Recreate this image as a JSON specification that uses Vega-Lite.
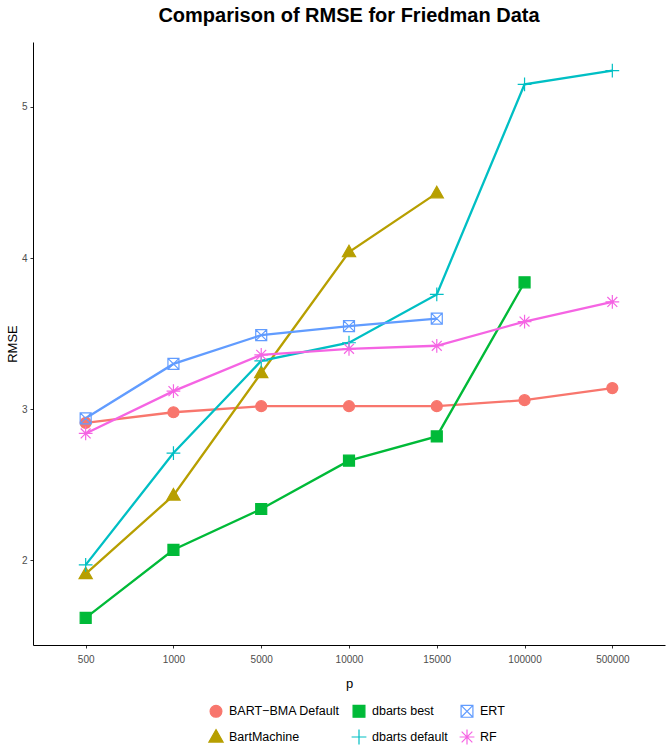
{
  "$schema": "https://vega.github.io/schema/vega-lite/v6.json",
  "autosize": {"type": "none"},
  "width": 632,
  "height": 603,
  "padding": {"left": 33, "top": 42, "right": 5, "bottom": 105},
  "background": "white",
  "title": {
    "text": "Comparison of RMSE for Friedman Data",
    "font": "Liberation Sans",
    "fontSize": 20,
    "fontWeight": "bold",
    "color": "black",
    "anchor": "middle",
    "frame": "group",
    "offset": 16
  },
  "config": {
    "view": {"stroke": null},
    "font": "Liberation Sans",
    "axis": {
      "domainColor": "black",
      "domainWidth": 1,
      "tickColor": "#333333",
      "tickSize": 3,
      "tickWidth": 1,
      "labelColor": "#4D4D4D",
      "labelFont": "Liberation Sans",
      "labelFontSize": 10,
      "titleFont": "Liberation Sans",
      "titleFontSize": 13,
      "titleFontWeight": "normal",
      "titleColor": "black",
      "grid": false
    },
    "legend": {
      "labelFont": "Liberation Sans",
      "labelFontSize": 12.5,
      "labelColor": "black",
      "symbolStrokeWidth": 1.2,
      "symbolSize": 140
    }
  },
  "data": {
    "values": [
      {"p": "500", "series": "BART−BMA Default", "rmse": 2.91},
      {"p": "1000", "series": "BART−BMA Default", "rmse": 2.98},
      {"p": "5000", "series": "BART−BMA Default", "rmse": 3.02},
      {"p": "10000", "series": "BART−BMA Default", "rmse": 3.02},
      {"p": "15000", "series": "BART−BMA Default", "rmse": 3.02},
      {"p": "100000", "series": "BART−BMA Default", "rmse": 3.06},
      {"p": "500000", "series": "BART−BMA Default", "rmse": 3.14},
      {"p": "500", "series": "BartMachine", "rmse": 1.91},
      {"p": "1000", "series": "BartMachine", "rmse": 2.43},
      {"p": "5000", "series": "BartMachine", "rmse": 3.24},
      {"p": "10000", "series": "BartMachine", "rmse": 4.04},
      {"p": "15000", "series": "BartMachine", "rmse": 4.43},
      {"p": "500", "series": "dbarts best", "rmse": 1.62},
      {"p": "1000", "series": "dbarts best", "rmse": 2.07},
      {"p": "5000", "series": "dbarts best", "rmse": 2.34},
      {"p": "10000", "series": "dbarts best", "rmse": 2.66},
      {"p": "15000", "series": "dbarts best", "rmse": 2.82},
      {"p": "100000", "series": "dbarts best", "rmse": 3.84},
      {"p": "500", "series": "dbarts default", "rmse": 1.97},
      {"p": "1000", "series": "dbarts default", "rmse": 2.71},
      {"p": "5000", "series": "dbarts default", "rmse": 3.32},
      {"p": "10000", "series": "dbarts default", "rmse": 3.44},
      {"p": "15000", "series": "dbarts default", "rmse": 3.76},
      {"p": "100000", "series": "dbarts default", "rmse": 5.15},
      {"p": "500000", "series": "dbarts default", "rmse": 5.24},
      {"p": "500", "series": "ERT", "rmse": 2.94},
      {"p": "1000", "series": "ERT", "rmse": 3.30},
      {"p": "5000", "series": "ERT", "rmse": 3.49},
      {"p": "10000", "series": "ERT", "rmse": 3.55},
      {"p": "15000", "series": "ERT", "rmse": 3.60},
      {"p": "500", "series": "RF", "rmse": 2.84},
      {"p": "1000", "series": "RF", "rmse": 3.12},
      {"p": "5000", "series": "RF", "rmse": 3.36},
      {"p": "10000", "series": "RF", "rmse": 3.40},
      {"p": "15000", "series": "RF", "rmse": 3.42},
      {"p": "100000", "series": "RF", "rmse": 3.58},
      {"p": "500000", "series": "RF", "rmse": 3.71}
    ]
  },
  "encoding": {
    "x": {
      "field": "p",
      "type": "ordinal",
      "sort": ["500", "1000", "5000", "10000", "15000", "100000", "500000"],
      "scale": {"type": "point", "padding": 0.6},
      "axis": {"title": "p", "labelAngle": 0, "labelPadding": 6, "titleY": 32}
    },
    "y": {
      "field": "rmse",
      "type": "quantitative",
      "scale": {"domain": [1.44, 5.43], "nice": false, "zero": false},
      "axis": {"title": "RMSE", "values": [2, 3, 4, 5], "labelPadding": 3, "titleX": -21, "titleBaseline": "middle"}
    }
  },
  "layer": [
    {
      "mark": {"type": "line", "strokeWidth": 2.3},
      "encoding": {
        "color": {
          "field": "series",
          "type": "nominal",
          "scale": {
            "domain": ["BART−BMA Default", "BartMachine", "dbarts best", "dbarts default", "ERT", "RF"],
            "range": ["#F8766D", "#B79F00", "#00BA38", "#00BFC4", "#619CFF", "#F564E3"]
          },
          "legend": null
        }
      }
    },
    {
      "mark": {"type": "point", "filled": true, "strokeWidth": 1.2, "opacity": 1, "size": 121},
      "encoding": {
        "fill": {
          "field": "series",
          "type": "nominal",
          "scale": {
            "domain": ["BART−BMA Default", "dbarts best", "ERT", "BartMachine", "dbarts default", "RF"],
            "range": ["#F8766D", "#00BA38", "transparent", "#B79F00", "transparent", "transparent"]
          },
          "legend": {
            "title": null,
            "orient": "none",
            "direction": "horizontal",
            "columns": 3,
            "legendX": 176,
            "legendY": 662,
            "columnPadding": 9,
            "rowPadding": 7,
            "labelOffset": 6
          }
        },
        "stroke": {
          "field": "series",
          "type": "nominal",
          "scale": {
            "domain": ["BART−BMA Default", "dbarts best", "ERT", "BartMachine", "dbarts default", "RF"],
            "range": ["#F8766D", "#00BA38", "#619CFF", "#B79F00", "#00BFC4", "#F564E3"]
          }
        },
        "shape": {
          "field": "series",
          "type": "nominal",
          "scale": {
            "domain": ["BART−BMA Default", "dbarts best", "ERT", "BartMachine", "dbarts default", "RF"],
            "range": [
              "circle",
              "square",
              "M-1,-1L1,-1L1,1L-1,1Z M-1,-1L1,1 M-1,1L1,-1",
              "M0,-1.25L1.2,0.85L-1.2,0.85Z",
              "M-1.25,0L1.25,0M0,-1.25L0,1.25",
              "M-1.25,0L1.25,0M0,-1.25L0,1.25M-0.9,-0.9L0.9,0.9M-0.9,0.9L0.9,-0.9"
            ]
          }
        }
      }
    }
  ]
}
